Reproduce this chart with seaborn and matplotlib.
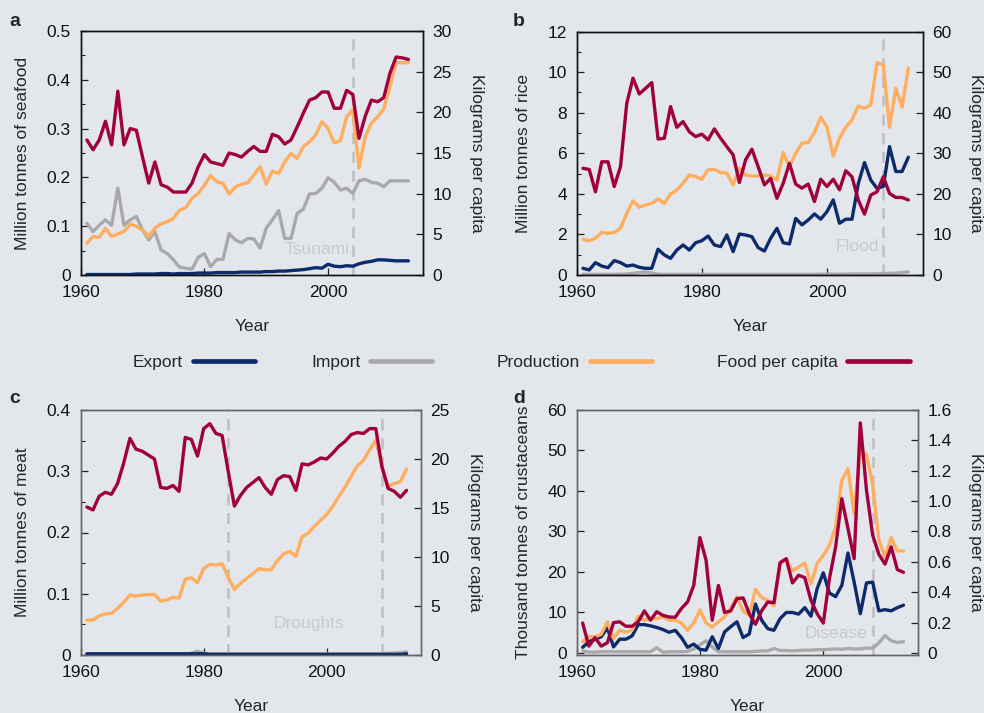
import matplotlib
matplotlib.use("Agg")
import matplotlib.pyplot as plt
import seaborn as sns
from matplotlib.lines import Line2D
from matplotlib.ticker import MultipleLocator, FuncFormatter

# ---------------- data ----------------
years = list(range(1961, 2014))

# a: seafood (million tonnes; food per capita in kg)
sea_export = [0.001, 0.001, 0.001, 0.001, 0.001, 0.001, 0.001, 0.001, 0.002, 0.002,
              0.002, 0.002, 0.003, 0.003, 0.002, 0.003, 0.003, 0.003, 0.004, 0.004,
              0.004, 0.005, 0.005, 0.005, 0.005, 0.006, 0.006, 0.006, 0.006, 0.007,
              0.007, 0.008, 0.008, 0.009, 0.010, 0.011, 0.013, 0.015, 0.014, 0.022,
              0.018, 0.017, 0.019, 0.018, 0.023, 0.026, 0.028, 0.031, 0.031, 0.030,
              0.029, 0.029, 0.029]
sea_import = [0.106, 0.089, 0.102, 0.113, 0.102, 0.178, 0.102, 0.113, 0.120, 0.092,
              0.072, 0.089, 0.051, 0.044, 0.031, 0.016, 0.014, 0.012, 0.036, 0.044,
              0.017, 0.032, 0.032, 0.085, 0.072, 0.066, 0.075, 0.074, 0.055, 0.096,
              0.113, 0.132, 0.075, 0.075, 0.126, 0.135, 0.166, 0.167, 0.178, 0.199,
              0.190, 0.174, 0.178, 0.167, 0.193, 0.196, 0.190, 0.188, 0.181, 0.193,
              0.193, 0.193, 0.193]
sea_production = [0.065, 0.079, 0.077, 0.096, 0.079, 0.084, 0.089, 0.104, 0.100, 0.092,
                  0.079, 0.096, 0.105, 0.109, 0.116, 0.133, 0.138, 0.157, 0.167, 0.184,
                  0.204, 0.191, 0.188, 0.166, 0.180, 0.186, 0.189, 0.205, 0.222, 0.186,
                  0.213, 0.208, 0.232, 0.249, 0.239, 0.263, 0.273, 0.287, 0.314, 0.300,
                  0.271, 0.275, 0.324, 0.339, 0.219, 0.283, 0.311, 0.324, 0.340, 0.386,
                  0.435, 0.435, 0.435]
sea_food = [16.6, 15.4, 16.6, 18.9, 16.0, 22.6, 16.0, 18.0, 17.8, 14.5,
            11.3, 13.9, 11.1, 10.8, 10.2, 10.2, 10.2, 11.3, 13.3, 14.8,
            13.9, 13.7, 13.5, 15.0, 14.8, 14.5, 15.2, 15.8, 15.2, 15.2,
            17.3, 17.0, 16.1, 16.6, 18.2, 19.9, 21.5, 21.8, 22.5, 22.5,
            20.5, 20.5, 22.7, 22.2, 16.8, 19.5, 21.5, 21.3, 21.8, 24.8,
            26.8, 26.7, 26.5]

# b: rice
rice_export = [0.33, 0.25, 0.61, 0.44, 0.36, 0.71, 0.61, 0.44, 0.49, 0.38,
               0.33, 0.33, 1.27, 0.99, 0.82, 1.23, 1.48, 1.23, 1.59, 1.69,
               1.92, 1.48, 1.40, 1.97, 1.15, 2.02, 1.97, 1.89, 1.35, 1.18,
               1.81, 2.30, 1.59, 1.53, 2.79, 2.47, 2.71, 3.01, 2.75, 3.12,
               3.70, 2.55, 2.75, 2.75, 4.50, 5.54, 4.68, 4.27, 4.36, 6.33,
               5.10, 5.10, 5.80]
rice_import = [0.03, 0.03, 0.03, 0.03, 0.03, 0.03, 0.04, 0.05, 0.08, 0.12,
               0.15, 0.10, 0.04, 0.03, 0.03, 0.03, 0.03, 0.03, 0.03, 0.03,
               0.03, 0.03, 0.03, 0.03, 0.03, 0.03, 0.03, 0.03, 0.03, 0.03,
               0.03, 0.03, 0.03, 0.03, 0.03, 0.03, 0.03, 0.03, 0.04, 0.04,
               0.04, 0.04, 0.04, 0.05, 0.05, 0.05, 0.05, 0.06, 0.07, 0.08,
               0.09, 0.12, 0.15]
rice_production = [1.76, 1.69, 1.81, 2.10, 2.05, 2.10, 2.30, 3.04, 3.65, 3.34,
                   3.45, 3.53, 3.75, 3.53, 3.99, 4.19, 4.52, 4.93, 4.85, 4.72,
                   5.18, 5.21, 5.05, 5.01, 4.44, 5.26, 4.93, 4.88, 4.88, 4.93,
                   4.88, 4.69, 6.03, 5.34, 6.00, 6.49, 6.53, 7.02, 7.78, 7.28,
                   5.87, 6.74, 7.28, 7.64, 8.33, 8.22, 8.38, 10.47, 10.35, 7.28,
                   9.20, 8.27, 10.19]
rice_food = [26.3, 26.0, 20.5, 27.9, 27.9, 21.8, 26.7, 42.3, 48.5, 44.6,
             46.0, 47.4, 33.5, 33.7, 41.5, 36.4, 37.8, 35.3, 34.1, 34.7,
             33.3, 36.0, 33.7, 31.6, 29.6, 22.8, 28.4, 31.0, 26.7, 22.2,
             23.8, 18.9, 22.6, 27.5, 22.4, 21.4, 22.4, 18.1, 23.6, 21.8,
             23.6, 21.0, 25.7, 24.2, 18.5, 15.0, 19.7, 20.5, 24.2, 20.1,
             19.1, 19.1, 18.5]

# c: meat
meat_export = [0.002, 0.002, 0.002, 0.002, 0.002, 0.002, 0.002, 0.002, 0.002, 0.002,
               0.002, 0.002, 0.002, 0.002, 0.002, 0.002, 0.002, 0.002, 0.002, 0.002,
               0.001, 0.001, 0.001, 0.001, 0.001, 0.001, 0.001, 0.001, 0.001, 0.001,
               0.001, 0.001, 0.001, 0.001, 0.001, 0.001, 0.001, 0.001, 0.001, 0.001,
               0.001, 0.001, 0.001, 0.001, 0.001, 0.001, 0.001, 0.001, 0.001, 0.001,
               0.001, 0.001, 0.002]
meat_import = [0.001, 0.001, 0.001, 0.001, 0.001, 0.001, 0.001, 0.001, 0.001, 0.001,
               0.001, 0.001, 0.001, 0.001, 0.001, 0.001, 0.001, 0.003, 0.006, 0.003,
               0.002, 0.002, 0.002, 0.002, 0.002, 0.002, 0.002, 0.002, 0.002, 0.002,
               0.002, 0.002, 0.002, 0.002, 0.002, 0.002, 0.002, 0.002, 0.002, 0.002,
               0.002, 0.002, 0.002, 0.002, 0.002, 0.002, 0.002, 0.002, 0.002, 0.003,
               0.003, 0.004, 0.005]
meat_production = [0.057, 0.057, 0.064, 0.067, 0.068, 0.076, 0.086, 0.098, 0.096, 0.098,
                   0.0985, 0.099, 0.088, 0.090, 0.094, 0.093, 0.124, 0.126, 0.118, 0.141,
                   0.148, 0.147, 0.149, 0.127, 0.107, 0.117, 0.125, 0.133, 0.141, 0.139,
                   0.139, 0.154, 0.165, 0.169, 0.161, 0.193, 0.199, 0.210, 0.220, 0.229,
                   0.243, 0.259, 0.274, 0.292, 0.309, 0.318, 0.335, 0.351, 0.307, 0.275,
                   0.280, 0.283, 0.304]
meat_food = [15.1, 14.8, 16.2, 16.6, 16.4, 17.5, 19.6, 22.1, 21.0, 20.8,
             20.4, 20.0, 17.1, 17.0, 17.3, 16.7, 22.2, 22.0, 20.3, 23.1,
             23.6, 22.6, 22.4, 18.7, 15.2, 16.3, 17.1, 17.6, 18.1, 17.1,
             16.4, 17.9, 18.3, 18.2, 16.8, 19.5, 19.4, 19.7, 20.1, 20.0,
             20.6, 21.3, 21.8, 22.5, 22.7, 22.6, 23.1, 23.1, 19.2, 17.0,
             16.7, 16.1, 16.8]

# d: crustaceans (thousand tonnes; food per capita in kg)
crus_export = [1.4, 2.8, 3.4, 4.0, 6.2, 1.5, 3.4, 3.4, 4.2, 7.0,
               7.0, 6.7, 6.3, 5.8, 5.1, 5.6, 3.8, 1.4, 2.2, 0.9,
               0.7, 4.0, 1.1, 5.2, 6.5, 7.7, 3.8, 4.7, 12.1, 8.1,
               6.0, 5.6, 8.5, 10.0, 10.0, 9.6, 11.2, 9.1, 15.9, 19.8,
               14.8, 13.9, 16.7, 24.7, 17.5, 9.7, 17.3, 17.5, 10.4, 10.7,
               10.4, 11.2, 11.8]
crus_import = [0.5, 0.2, 0.2, 0.3, 0.3, 0.3, 0.3, 0.3, 0.3, 0.3,
               0.3, 0.3, 1.3, 0.2, 0.3, 0.3, 0.3, 0.4, 1.0, 2.0,
               3.0, 1.5, 0.3, 0.3, 0.3, 0.3, 0.3, 0.3, 0.4, 0.5,
               0.5, 1.1, 0.6, 0.6, 0.5, 0.6, 0.7, 0.7, 0.8, 0.8,
               0.9, 1.0, 0.9, 1.1, 1.0, 1.0, 1.2, 1.2, 2.5, 4.3,
               3.0, 2.6, 2.8]
crus_production = [2.8, 4.0, 4.0, 4.6, 7.7, 3.6, 5.6, 5.2, 5.6, 9.1,
                   8.1, 8.5, 8.5, 8.9, 8.1, 8.1, 7.4, 5.6, 7.4, 10.6,
                   7.4, 6.4, 7.7, 8.9, 11.0, 13.9, 10.4, 9.3, 15.7, 13.7,
                   13.0, 11.6, 22.1, 23.1, 20.3, 21.2, 22.2, 17.1, 22.1, 24.1,
                   26.6, 31.1, 42.6, 45.5, 34.4, 50.0, 49.0, 41.5, 28.0, 23.7,
                   28.5, 25.2, 25.2]
crus_food = [0.197, 0.045, 0.101, 0.045, 0.067, 0.200, 0.205, 0.176, 0.176, 0.205,
             0.277, 0.216, 0.272, 0.248, 0.237, 0.235, 0.293, 0.336, 0.445, 0.760,
             0.611, 0.216, 0.445, 0.267, 0.277, 0.357, 0.363, 0.259, 0.189, 0.277,
             0.336, 0.331, 0.595, 0.621, 0.461, 0.512, 0.496, 0.347, 0.259, 0.197,
             0.491, 0.699, 1.016, 0.819, 0.621, 1.515, 1.072, 0.776, 0.650, 0.585,
             0.699, 0.549, 0.531]

panel_letters = ["a", "b", "c", "d"]
left_labels = ["Million tonnes of seafood", "Million tonnes of rice",
               "Million tonnes of meat", "Thousand tonnes of crustaceans"]
right_label = "Kilograms per capita"
event_names = ["Tsunami", "Flood", "Droughts", "Disease"]
event_years = [[2004], [2009], [1984, 2009], [2008]]
legend_names = ["Export", "Import", "Production", "Food per capita"]
x_ticks = [1960, 1980, 2000]

# ---------------- style ----------------
sns.set_theme(style="ticks")
BG = "#e3e7ec"
plt.rcParams.update({
    "font.family": ["Liberation Sans", "DejaVu Sans"],
    "font.size": 12.5,
    "figure.facecolor": BG,
    "axes.facecolor": BG,
    "savefig.facecolor": BG,
    "axes.linewidth": 1.0,
})
C_EXP, C_IMP, C_PROD, C_FOOD = "#0d2a6a", "#a9a9a9", "#ffad5e", "#a0003e"
LW = 2.4
DASH = "#bdbfc2"
ANN = "#c8cacd"

fig = plt.figure(figsize=(9.84, 7.13), dpi=100)
W, H = 984, 713


def rect(l, r, t, b):
    return [l / W, 1 - b / H, (r - l) / W, (b - t) / H]


rects = [rect(80.7, 422.7, 31, 275), rect(576.7, 922.7, 31.5, 275),
         rect(80.7, 420.7, 410, 655), rect(576.5, 917.7, 410, 655)]
left_lims = [(0, 0.5), (0, 12), (0, 0.4), (-0.5, 60)]
right_lims = [(0, 30), (0, 60), (0, 25), (-0.5 / 37.5, 1.6)]
left_major = [0.1, 2, 0.1, 10]
left_minor = [0.05, 1, 0.05, None]
right_major = [5, 10, 5, 0.2]
spine_col = ["#111111", "#111111", "#666666", "#666666"]
series = [
    (sea_export, sea_import, sea_production, sea_food),
    (rice_export, rice_import, rice_production, rice_food),
    (meat_export, meat_import, meat_production, meat_food),
    (crus_export, crus_import, crus_production, crus_food),
]
# annotation placement: (x, y in left units, ha)
ann_pos = [(2003.5, 0.053, "right"), (2008.4, 1.4, "right"),
           (1997.2, 0.051, "center"), (2007.2, 4.7, "right")]
letter_pos = [(15, 22), (519, 22), (15, 398), (519, 398)]


def fmt(v, pos):
    if abs(v) < 1e-9:
        return "0"
    if abs(v - round(v)) < 1e-9 and abs(v) >= 2:
        return f"{int(round(v))}"
    return f"{v:.1f}"


for i in range(4):
    ax = fig.add_axes(rects[i])
    exp_, imp_, prod_, food_ = series[i]
    for yr in event_years[i]:
        ax.axvline(yr, color=DASH, lw=1.8, ls=(0, (4.5, 3)), zorder=1)
    sns.lineplot(x=years, y=imp_, ax=ax, color=C_IMP, lw=LW, legend=False, zorder=2)
    sns.lineplot(x=years, y=exp_, ax=ax, color=C_EXP, lw=LW, legend=False, zorder=3)
    sns.lineplot(x=years, y=prod_, ax=ax, color=C_PROD, lw=LW, legend=False, zorder=4)
    ax.set_xlim(1960, 2015.3)
    ax.set_ylim(*left_lims[i])
    ax.yaxis.set_major_locator(MultipleLocator(left_major[i]))
    if left_minor[i]:
        ax.yaxis.set_minor_locator(MultipleLocator(left_minor[i]))
    ax.yaxis.set_major_formatter(FuncFormatter(fmt))
    ax.set_xticks(x_ticks)
    ax.set_xticklabels([str(t) for t in x_ticks])
    ax.tick_params(which="major", direction="in", length=5, width=0.9,
                   colors="#222222", labelcolor="#111111", pad=7, labelsize=12.5)
    ax.tick_params(which="minor", direction="in", length=3, width=0.8, colors="#222222")
    ax.set_xlabel("Year", labelpad=14, fontsize=12.5)
    ax.set_ylabel(left_labels[i], labelpad=12, fontsize=12.5)
    x_a, y_a, ha_a = ann_pos[i]
    ax.text(x_a, y_a, event_names[i], color=ANN, ha=ha_a, va="center", fontsize=12.5)

    ax2 = ax.twinx()
    sns.lineplot(x=years, y=food_, ax=ax2, color=C_FOOD, lw=LW, legend=False, zorder=5)
    ax2.set_ylim(*right_lims[i])
    ax2.set_xlim(1960, 2015.3)
    ax2.yaxis.set_major_locator(MultipleLocator(right_major[i]))
    ax2.yaxis.set_major_formatter(FuncFormatter(fmt))
    ax2.tick_params(which="major", direction="in", length=5, width=0.9,
                    colors="#222222", labelcolor="#111111", pad=7, labelsize=12.5)
    ax2.set_ylabel(right_label, rotation=270, va="bottom", labelpad=12, fontsize=12.5)
    for a in (ax, ax2):
        for s in a.spines.values():
            s.set_color(spine_col[i])
            s.set_linewidth(1.0)
            s.set_visible(True)
    fig.text(letter_pos[i][0] / W, 1 - letter_pos[i][1] / H, panel_letters[i],
             fontsize=14, fontweight="bold", ha="center", va="center")

# legend row
leg_colors = [C_EXP, C_IMP, C_PROD, C_FOOD]
leg_x = [133, 311, 497, 717]
for name, col, lx in zip(legend_names, leg_colors, leg_x):
    h = Line2D([], [], color=col, lw=3.4)
    fig.legend([h], [name], loc="center left", bbox_to_anchor=(lx / W, 1 - 362 / H),
               frameon=False, markerfirst=False, handlelength=3.6, handletextpad=0.55,
               borderpad=0, borderaxespad=0, fontsize=12.5)

fig.savefig("out.png", dpi=100)
